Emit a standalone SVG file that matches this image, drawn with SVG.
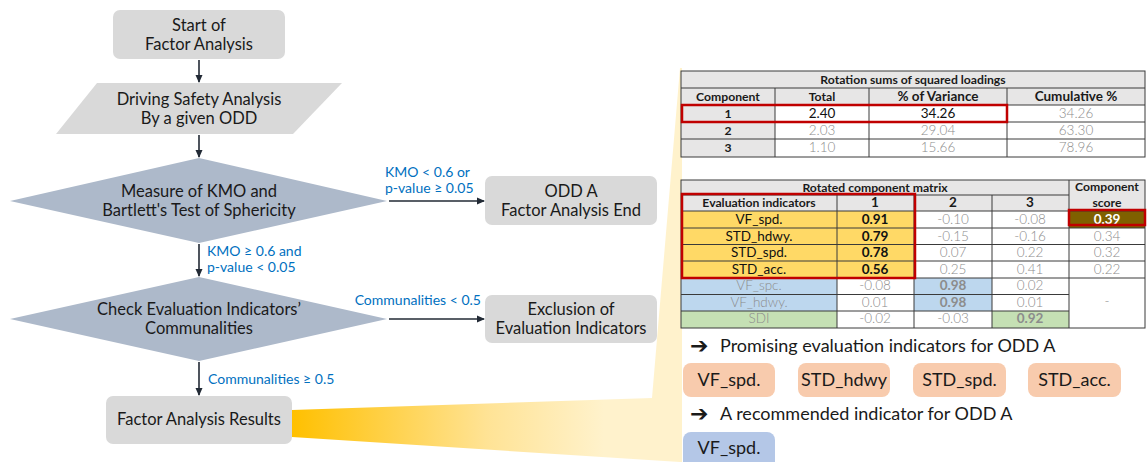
<svg xmlns="http://www.w3.org/2000/svg" width="1148" height="462" viewBox="0 0 1148 462">
<defs>
<linearGradient id="wedge" gradientUnits="userSpaceOnUse" x1="292" y1="0" x2="682" y2="0">
<stop offset="0" stop-color="#FFC000"/>
<stop offset="0.5" stop-color="#FFE395"/>
<stop offset="0.8" stop-color="#FFF2CC"/>
<stop offset="1" stop-color="#FFF2CC"/>
</linearGradient>
<marker id="ah" markerWidth="8" markerHeight="8" refX="7" refY="4" orient="auto" markerUnits="userSpaceOnUse">
<path d="M0,0.5 L8,4 L0,7.5 Z" fill="#222A35"/>
</marker>
<style>
.t{font-family:Lato,"Noto Sans",sans-serif;font-size:16.5px;fill:#1a1a1a;text-anchor:middle}
.lb{font-family:Lato,"Noto Sans",sans-serif;font-size:14px;fill:#0070C0}
.box{fill:#D9D9D9}
.dia{fill:#ADB9CA}
.con{stroke:#222A35;stroke-width:1.6;fill:none;marker-end:url(#ah)}
.th{font-family:Lato,"Noto Sans",sans-serif;font-size:12.2px;font-weight:bold;fill:#1a1a1a;text-anchor:middle}
.tn{font-family:Lato,"Noto Sans",sans-serif;font-size:13.5px;font-weight:300;fill:#8c8c8c;text-anchor:middle}
.tk{font-family:Lato,"Noto Sans",sans-serif;font-size:13.5px;fill:#111;text-anchor:middle}
.tb{font-family:Lato,"Noto Sans",sans-serif;font-size:13.5px;font-weight:bold;fill:#111;text-anchor:middle}
.tg{font-family:Lato,"Noto Sans",sans-serif;font-size:13.5px;font-weight:bold;fill:#8c8c8c;text-anchor:middle}
.gl{stroke:#3a3a3a;stroke-width:1;fill:none}
.red{stroke:#C00000;stroke-width:2.5;fill:none}
.big{font-family:Lato,"Noto Sans",sans-serif;font-size:18px;fill:#1a1a1a}
.arr{font-family:"DejaVu Sans",sans-serif;font-size:22px;font-weight:bold;fill:#1a1a1a}
.pill{font-family:Lato,"Noto Sans",sans-serif;font-size:18px;fill:#1a1a1a;text-anchor:middle}
</style>
</defs>
<rect width="1148" height="462" fill="#ffffff"/>
<polygon points="292,410 652,398 680,68 682,68 682,462 680,462 292,437" fill="url(#wedge)"/>

<g id="connectors">
<line class="con" x1="199" y1="60" x2="199" y2="82"/>
<line class="con" x1="199" y1="135" x2="199" y2="157"/>
<line class="con" x1="199" y1="244" x2="199" y2="276"/>
<line class="con" x1="199" y1="362" x2="199" y2="395"/>
<line class="con" x1="389" y1="201" x2="484" y2="201"/>
<line class="con" x1="389" y1="319" x2="484" y2="319"/>
<text class="lb" x="207" y="256">KMO ≥ 0.6 and</text>
<text class="lb" x="207" y="272">p-value &lt; 0.05</text>
<text class="lb" x="208" y="384">Communalities ≥ 0.5</text>
<text class="lb" x="385" y="177">KMO &lt; 0.6 or</text>
<text class="lb" x="385" y="193">p-value ≥ 0.05</text>
<text class="lb" x="481" y="305" text-anchor="end">Communalities &lt; 0.5</text>
</g>

<g id="start">
<rect class="box" x="113" y="10" width="172" height="49" rx="7"/>
<text class="t" x="199" y="31">Start of</text>
<text class="t" x="199" y="50">Factor Analysis</text>
</g>
<g id="driving">
<polygon class="box" points="97,83 342,83 293,134 56,134"/>
<text class="t" x="199" y="105">Driving Safety Analysis</text>
<text class="t" x="199" y="124">By a given ODD</text>
</g>
<g id="kmo">
<polygon class="dia" points="199,158 387,201 199,243 10,201"/>
<text class="t" x="199" y="197">Measure of KMO and</text>
<text class="t" x="199" y="216">Bartlett's Test of Sphericity</text>
</g>
<g id="odd-end">
<rect class="box" x="485" y="176" width="172" height="49" rx="7"/>
<text class="t" x="571" y="197">ODD A</text>
<text class="t" x="571" y="216">Factor Analysis End</text>
</g>
<g id="communalities">
<polygon class="dia" points="199,277 387,319 199,361 10,319"/>
<text class="t" x="199" y="315">Check Evaluation Indicators’</text>
<text class="t" x="199" y="334">Communalities</text>
</g>
<g id="exclusion">
<rect class="box" x="485" y="295" width="172" height="48" rx="7"/>
<text class="t" x="571" y="315">Exclusion of</text>
<text class="t" x="571" y="334">Evaluation Indicators</text>
</g>
<g id="results">
<rect class="box" x="106" y="396" width="186" height="48" rx="7"/>
<text class="t" x="199" y="425">Factor Analysis Results</text>
</g>

<g id="table-loadings">
<rect x="681" y="71" width="464" height="86" fill="#ffffff"/>
<rect x="681" y="71" width="464" height="34" fill="#E7E6E6"/>
<rect x="681" y="105" width="94" height="52" fill="#E7E6E6"/>
<rect class="gl" x="681" y="71" width="464" height="86" stroke-width="1.3"/>
<line class="gl" x1="681" y1="88" x2="1145" y2="88"/>
<line class="gl" x1="681" y1="105" x2="1145" y2="105"/>
<line class="gl" x1="681" y1="122" x2="1145" y2="122"/>
<line class="gl" x1="681" y1="139" x2="1145" y2="139"/>
<line class="gl" x1="775" y1="88" x2="775" y2="157"/>
<line class="gl" x1="869" y1="88" x2="869" y2="157"/>
<line class="gl" x1="1007" y1="88" x2="1007" y2="157"/>
<text class="th" x="913" y="84">Rotation sums of squared loadings</text>
<text class="th" x="728" y="101">Component</text>
<text class="th" x="822" y="101">Total</text>
<text class="th" x="938" y="101" style="font-size:13.5px">% of Variance</text>
<text class="th" x="1076" y="101" style="font-size:13.5px">Cumulative %</text>
<text class="th" x="728" y="118">1</text>
<text class="tk" x="822" y="118">2.40</text>
<text class="tk" x="938" y="118">34.26</text>
<text class="tn" x="1076" y="118">34.26</text>
<text class="th" x="728" y="135">2</text>
<text class="tn" x="822" y="135">2.03</text>
<text class="tn" x="938" y="135">29.04</text>
<text class="tn" x="1076" y="135">63.30</text>
<text class="th" x="728" y="152">3</text>
<text class="tn" x="822" y="152">1.10</text>
<text class="tn" x="938" y="152">15.66</text>
<text class="tn" x="1076" y="152">78.96</text>
<rect class="red" x="682" y="105" width="325" height="17"/>
</g>

<g id="table-matrix">
<rect x="681" y="180" width="464" height="148" fill="#ffffff"/>
<rect x="681" y="180" width="464" height="31" fill="#E7E6E6"/>
<rect x="681" y="211" width="233" height="67" fill="#FFD966"/>
<rect x="681" y="278" width="156" height="33" fill="#BDD7EE"/>
<rect x="914" y="278" width="78" height="33" fill="#BDD7EE"/>
<rect x="681" y="311" width="156" height="17" fill="#C5E0B4"/>
<rect x="992" y="311" width="77" height="17" fill="#C5E0B4"/>
<rect x="1069" y="211" width="76" height="17" fill="#7F6000"/>
<rect class="gl" x="681" y="180" width="464" height="148" stroke-width="1.3"/>
<line class="gl" x1="681" y1="195" x2="1069" y2="195"/>
<line class="gl" x1="681" y1="211" x2="1145" y2="211"/>
<line class="gl" x1="681" y1="228" x2="1145" y2="228"/>
<line class="gl" x1="681" y1="244.5" x2="1145" y2="244.5"/>
<line class="gl" x1="681" y1="261" x2="1145" y2="261"/>
<line class="gl" x1="681" y1="278" x2="1145" y2="278"/>
<line class="gl" x1="681" y1="294.5" x2="1069" y2="294.5"/>
<line class="gl" x1="681" y1="311" x2="1069" y2="311"/>
<line class="gl" x1="837" y1="195" x2="837" y2="328"/>
<line class="gl" x1="914" y1="195" x2="914" y2="328"/>
<line class="gl" x1="992" y1="195" x2="992" y2="328"/>
<line class="gl" x1="1069" y1="180" x2="1069" y2="328"/>
<text class="th" x="875" y="192">Rotated component matrix</text>
<text class="th" x="1107" y="191">Component</text>
<text class="th" x="1107" y="207">score</text>
<text class="th" x="759" y="207">Evaluation indicators</text>
<text class="th" x="875" y="207" style="font-size:13.5px">1</text>
<text class="th" x="953" y="207" style="font-size:13.5px">2</text>
<text class="th" x="1030" y="207" style="font-size:13.5px">3</text>

<text class="tk" x="759" y="224">VF_spd.</text>
<text class="tb" x="875" y="224">0.91</text>
<text class="tn" x="953" y="224">-0.10</text>
<text class="tn" x="1030" y="224">-0.08</text>
<text class="tb" x="1107" y="224" style="fill:#ffffff">0.39</text>

<text class="tk" x="759" y="240.5">STD_hdwy.</text>
<text class="tb" x="875" y="240.5">0.79</text>
<text class="tn" x="953" y="240.5">-0.15</text>
<text class="tn" x="1030" y="240.5">-0.16</text>
<text class="tn" x="1107" y="240.5">0.34</text>

<text class="tk" x="759" y="257">STD_spd.</text>
<text class="tb" x="875" y="257">0.78</text>
<text class="tn" x="953" y="257">0.07</text>
<text class="tn" x="1030" y="257">0.22</text>
<text class="tn" x="1107" y="257">0.32</text>

<text class="tk" x="759" y="273.5">STD_acc.</text>
<text class="tb" x="875" y="273.5">0.56</text>
<text class="tn" x="953" y="273.5">0.25</text>
<text class="tn" x="1030" y="273.5">0.41</text>
<text class="tn" x="1107" y="273.5">0.22</text>

<text class="tn" x="759" y="290">VF_spc.</text>
<text class="tn" x="875" y="290">-0.08</text>
<text class="tg" x="953" y="290">0.98</text>
<text class="tn" x="1030" y="290">0.02</text>

<text class="tn" x="759" y="306.5">VF_hdwy.</text>
<text class="tn" x="875" y="306.5">0.01</text>
<text class="tg" x="953" y="306.5">0.98</text>
<text class="tn" x="1030" y="306.5">0.01</text>

<text class="tn" x="759" y="323">SDI</text>
<text class="tn" x="875" y="323">-0.02</text>
<text class="tn" x="953" y="323">-0.03</text>
<text class="tg" x="1030" y="323">0.92</text>
<text class="tn" x="1107" y="306">-</text>

<rect class="red" x="682" y="194" width="233" height="84"/>
<rect class="red" x="1069" y="210" width="76" height="15"/>
</g>

<g id="promising">
<text class="big" x="690" y="353"><tspan class="arr">➔</tspan><tspan x="720" y="352">Promising evaluation indicators for ODD A</tspan></text>
<rect x="683" y="363" width="92" height="34" rx="8" fill="#F8CBAD"/>
<text class="pill" x="729" y="386">VF_spd.</text>
<rect x="798" y="363" width="92" height="34" rx="8" fill="#F8CBAD"/>
<text class="pill" x="844" y="386">STD_hdwy</text>
<rect x="913" y="363" width="93" height="34" rx="8" fill="#F8CBAD"/>
<text class="pill" x="959.5" y="386">STD_spd.</text>
<rect x="1028" y="363" width="93" height="34" rx="8" fill="#F8CBAD"/>
<text class="pill" x="1074.5" y="386">STD_acc.</text>
</g>
<g id="recommended">
<text class="big" x="690" y="421"><tspan class="arr">➔</tspan><tspan x="720" y="420">A recommended indicator for ODD A</tspan></text>
<rect x="683" y="432" width="92" height="40" rx="8" fill="#B4C7E7"/>
<text class="pill" x="729" y="454">VF_spd.</text>
</g>
</svg>
